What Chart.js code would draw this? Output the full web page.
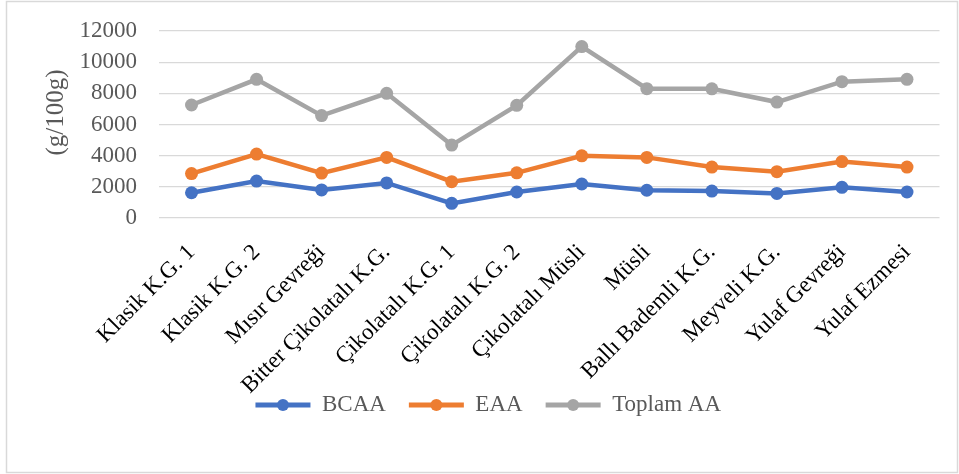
<!DOCTYPE html>
<html>
<head>
<meta charset="utf-8">
<script src="https://cdn.jsdelivr.net/npm/chart.js@4/dist/chart.umd.min.js"></script>
<style>
  html, body { margin: 0; padding: 0; background: #fff; }
  canvas { display: block; }
</style>
</head>
<body>
<canvas id="c" width="959" height="474"></canvas>
<script>
// Product categories (x axis)
const categories = [
  'Klasik K.G. 1', 'Klasik K.G. 2', 'Mısır Gevreği', 'Bitter Çikolatalı K.G.',
  'Çikolatalı K.G. 1', 'Çikolatalı K.G. 2', 'Çikolatalı Müsli', 'Müsli',
  'Ballı Bademli K.G.', 'Meyveli K.G.', 'Yulaf Gevreği', 'Yulaf Ezmesi'
];

// Amino acid contents, g/100g
const bcaa   = [1620, 2370, 1800, 2250, 940, 1670, 2180, 1780, 1730, 1580, 1970, 1670];
const eaa    = [2850, 4100, 2880, 3890, 2330, 2900, 3990, 3890, 3270, 2970, 3620, 3270];
const toplam = [7250, 8900, 6570, 8000, 4680, 7230, 11000, 8300, 8290, 7440, 8750, 8900];

// Y axis tick values
const yTicks = [0, 2000, 4000, 6000, 8000, 10000, 12000];

const SERIF = '"Liberation Serif", "Times New Roman", serif';
const colors = { bcaa: '#4472C4', eaa: '#ED7D31', toplam: '#A5A5A5' };
const LEGEND_CENTER_Y = 405;
const Y_TITLE_SHIFT = -12;

function series(label, data, color) {
  return {
    label, data,
    borderColor: color, backgroundColor: color,
    pointBackgroundColor: color, pointBorderColor: color,
    borderWidth: 4.5, pointRadius: 6.5, pointHoverRadius: 6.5,
    pointBorderWidth: 0, tension: 0
  };
}

// White background, thin frame, legend row placement
const framePlugin = {
  id: 'frame',
  afterLayout(chart) {
    // lift the y-axis title a little above the plot's vertical centre
    const s = chart.scales.y;
    if (s && !s._titleShifted) {
      const orig = s.drawTitle.bind(s);
      s.drawTitle = function () {
        this.ctx.save();
        this.ctx.translate(0, Y_TITLE_SHIFT);
        orig();
        this.ctx.restore();
      };
      s._titleShifted = true;
    }
  },
  beforeDraw(chart) {
    const ctx = chart.ctx;
    ctx.save();
    ctx.fillStyle = '#fff';
    ctx.fillRect(0, 0, chart.width, chart.height);
    ctx.strokeStyle = '#d9d9d9';
    ctx.lineWidth = 1.5;
    ctx.strokeRect(6.5, 1.5, 951, 471);
    ctx.restore();

    // put the legend row just under the rotated category labels
    const lg = chart.legend;
    if (lg && lg.legendHitBoxes && lg.legendHitBoxes.length) {
      const hb0 = lg.legendHitBoxes[0];
      const dy = LEGEND_CENTER_Y - (hb0.top + hb0.height / 2);
      if (dy !== 0) {
        lg.top += dy;
        lg.bottom += dy;
        lg.legendHitBoxes.forEach(hb => { hb.top += dy; });
      }
    }
  }
};

// Marker dot on each legend line sample
const legendDots = {
  id: 'legendDots',
  afterDraw(chart) {
    const lg = chart.legend;
    if (!lg || !lg.legendHitBoxes) return;
    const ctx = chart.ctx;
    const bw = lg.options.labels.boxWidth;
    lg.legendHitBoxes.forEach((hb, i) => {
      const item = lg.legendItems[i];
      ctx.save();
      ctx.fillStyle = item.strokeStyle;
      ctx.beginPath();
      ctx.arc(hb.left + bw / 2, hb.top + hb.height / 2, 6, 0, Math.PI * 2);
      ctx.fill();
      ctx.restore();
    });
  }
};

new Chart(document.getElementById('c'), {
  type: 'line',
  data: {
    labels: categories,
    datasets: [
      series('BCAA', bcaa, colors.bcaa),
      series('EAA', eaa, colors.eaa),
      series('Toplam AA', toplam, colors.toplam)
    ]
  },
  options: {
    responsive: false,
    devicePixelRatio: 1,
    animation: false,
    layout: { padding: { left: 37, right: 19.5, top: 31, bottom: 20 } },
    plugins: {
      tooltip: { enabled: false },
      legend: {
        position: 'bottom',
        maxHeight: 56,
        labels: {
          boxWidth: 55,
          boxHeight: 5,
          padding: 23,
          color: '#595959',
          font: { family: SERIF, size: 23 },
          generateLabels(chart) {
            return chart.data.datasets.map((ds, i) => ({
              text: ds.label,
              fillStyle: ds.borderColor,
              strokeStyle: ds.borderColor,
              lineWidth: 0,
              hidden: false,
              datasetIndex: i,
              fontColor: '#595959'
            }));
          }
        }
      }
    },
    scales: {
      x: {
        offset: true,
        grid: { display: false, drawTicks: false },
        border: { display: false },
        ticks: {
          autoSkip: false,
          minRotation: 45,
          maxRotation: 45,
          padding: 21,
          color: '#000',
          font: { family: SERIF, size: 23 }
        },
        afterFit(scale) { scale.height = 180; }
      },
      y: {
        min: 0,
        max: 12000,
        afterBuildTicks(scale) { scale.ticks = yTicks.map(v => ({ value: v })); },
        grid: { color: '#d9d9d9', lineWidth: 1.3, drawTicks: false },
        border: { display: false },
        ticks: {
          autoSkip: false,
          padding: 22,
          color: '#595959',
          font: { family: SERIF, size: 23 },
          callback: v => String(v)
        },
        title: {
          display: true,
          text: '(g/100g)',
          color: '#595959',
          font: { family: SERIF, size: 25 },
          padding: { top: 4, bottom: 0 }
        },
        afterFit(scale) {
          scale.width = 122;
          scale.paddingTop = 0;
          scale.paddingBottom = 0;
        }
      }
    }
  },
  plugins: [framePlugin, legendDots]
});
</script>
</body>
</html>
